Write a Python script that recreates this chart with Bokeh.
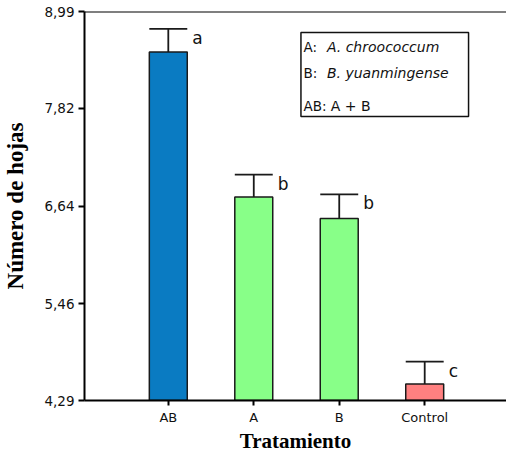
from bokeh.plotting import figure
from bokeh.models import Range1d, FixedTicker, Span, BoxAnnotation, Label, ColumnDataSource
from bokeh.core.properties import value
from bokeh.embed import file_html
from bokeh.resources import INLINE

categories = ["AB", "A", "B", "Control"]
means = [8.50, 6.75, 6.49, 4.49]
errors = [0.28, 0.27, 0.29, 0.27]
letters = ["a", "b", "b", "c"]
colors = ["#0a7bc2", "#88ff88", "#88ff88", "#ff8080"]
y_ticks = [4.29, 5.46, 6.64, 7.82, 8.99]
y_tick_labels = ["4,29", "5,46", "6,64", "7,82", "8,99"]

xs = list(range(len(categories)))
bw = 0.444
src = ColumnDataSource(dict(
    x=xs, top=means, err_top=[m + e for m, e in zip(means, errors)],
    x0=[x - bw / 2 for x in xs], x1=[x + bw / 2 for x in xs],
    lx=[x + bw / 2 for x in xs], letter=letters, color=colors,
))

p = figure(width=506, height=457, output_backend="svg", toolbar_location=None,
           x_range=Range1d(-0.9805, 3.957), y_range=Range1d(4.29, 8.99),
           min_border_left=83, min_border_top=11, min_border_right=0, min_border_bottom=57)
p.outline_line_color = None
p.xgrid.visible = False
p.ygrid.visible = False
p.background_fill_color = "white"

p.vbar(x="x", top="top", bottom=4.29, width=bw, source=src, fill_color="color",
       line_color="#1a1a1a", line_width=1.5)
p.segment(x0="x", y0="top", x1="x", y1="err_top", source=src, line_color="#1a1a1a", line_width=1.8)
p.segment(x0="x0", y0="err_top", x1="x1", y1="err_top", source=src, line_color="#1a1a1a", line_width=1.8)
p.text(x="lx", y="err_top", text="letter", source=src, x_offset=5, y_offset=9,
       text_align="left", text_baseline="middle", text_font=value("DejaVu Sans"),
       text_font_size="17px", text_color="#111111")

p.add_layout(Span(location=8.99, dimension="width", line_color="black", line_width=2))

# y axis
ya = p.yaxis[0]
ya.ticker = FixedTicker(ticks=y_ticks)
ya.major_label_overrides = {t: l for t, l in zip(y_ticks, y_tick_labels)}
ya.minor_tick_line_color = None
ya.major_tick_out = 6
ya.major_tick_in = 0
ya.major_tick_line_width = 2
ya.axis_line_width = 2
ya.axis_line_color = "black"
ya.major_label_standoff = 4
ya.major_label_text_font = "DejaVu Sans"
ya.major_label_text_font_size = "13.5px"
ya.major_label_text_color = "#111111"
ya.axis_label = "Número de hojas"
ya.axis_label_text_font = "Liberation Serif"
ya.axis_label_text_font_style = "bold"
ya.axis_label_text_font_size = "23px"
ya.axis_label_text_color = "black"
ya.axis_label_standoff = 13

# x axis
xa = p.xaxis[0]
xa.ticker = FixedTicker(ticks=xs)
xa.major_label_overrides = {x: c for x, c in zip(xs, categories)}
xa.minor_tick_line_color = None
xa.major_tick_out = 5
xa.major_tick_in = 0
xa.major_tick_line_width = 2
xa.axis_line_width = 2
xa.axis_line_color = "black"
xa.major_label_standoff = 4
xa.major_label_text_font = "DejaVu Sans"
xa.major_label_text_font_size = "13px"
xa.major_label_text_color = "#111111"
xa.axis_label = "Tratamiento"
xa.axis_label_text_font = "Liberation Serif"
xa.axis_label_text_font_style = "bold"
xa.axis_label_text_font_size = "21px"
xa.axis_label_text_color = "black"
xa.axis_label_standoff = 1

# legend box (data coordinates)
p.add_layout(BoxAnnotation(left=1.552, right=3.513, top=8.736, bottom=7.721,
                           fill_color="white", fill_alpha=1.0,
                           line_color="#111111", line_alpha=1.0, line_width=1.5))
rows = [("A:", "A. chroococcum", "italic", 8.567, 1.856),
        ("B:", "B. yuanmingense", "italic", 8.241, 1.856),
        ("AB:", "A + B", "normal", 7.854, 1.9)]
for key, txt, style, yy, tx in rows:
    p.add_layout(Label(x=1.582, y=yy, text=key, text_font="DejaVu Sans", text_font_size="13.5px",
                       text_baseline="middle", text_color="#111111"))
    p.add_layout(Label(x=tx, y=yy, text=txt, text_font="DejaVu Sans", text_font_size="14px",
                       text_font_style=style, text_baseline="middle", text_color="#111111"))

open("out.html", "w").write(file_html(p, INLINE))
